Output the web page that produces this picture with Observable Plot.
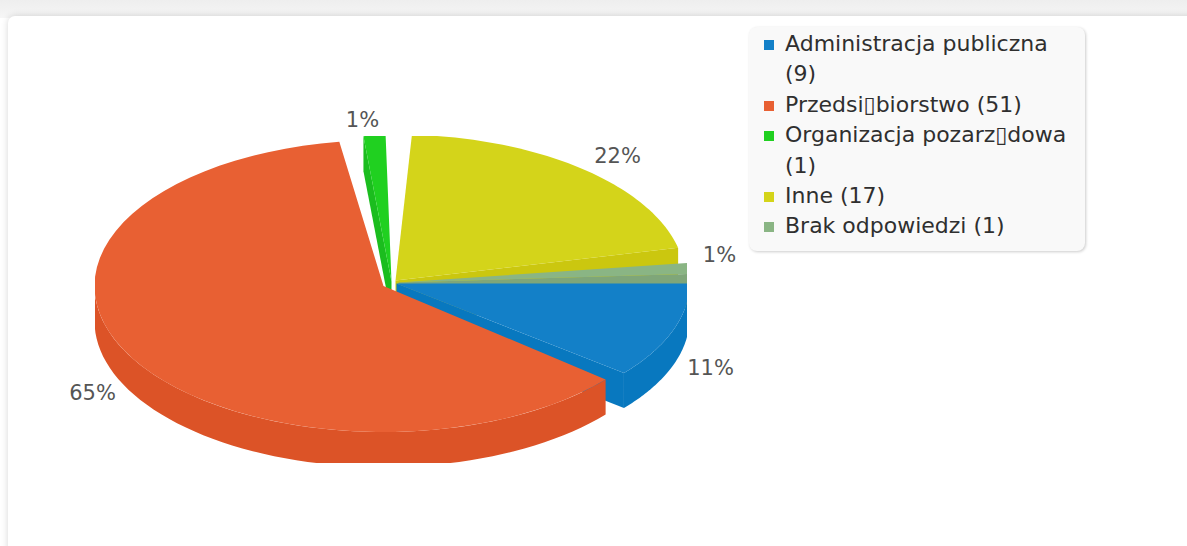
<!DOCTYPE html>
<html lang="pl">
<head>
<meta charset="utf-8">
<script src="https://cdn.jsdelivr.net/npm/d3@7"></script>
<script src="https://cdn.jsdelivr.net/npm/@observablehq/plot@0.6"></script>
<style>
html,body{margin:0;padding:0;background:#fff;overflow:hidden;width:1187px;height:546px;font-family:"DejaVu Sans",sans-serif}
#band{position:absolute;left:0;top:0;width:1187px;height:18px;background:linear-gradient(#eeeeee,#f6f6f6)}
#card{position:absolute;left:8px;top:16px;width:1400px;height:800px;background:#fff;border-radius:7px;box-shadow:0 0 7px rgba(0,0,0,.16)}
#chart{position:absolute;left:0;top:0}
#legend{position:absolute;left:749px;top:27px;width:336px;height:224px;box-sizing:border-box;background:#f9f9f9;border-radius:8px;box-shadow:1px 1px 3px rgba(0,0,0,.2);padding:2px 8px 0 36px;color:#2f2f2f;font-size:22px;line-height:30.4px}
#legend .item{position:relative}
#legend .key{position:absolute;left:-21px;top:11px;width:10px;height:10px}
</style>
</head>
<body>
<div id="band"></div>
<div id="card"></div>
<div id="chart"></div>
<div id="legend"></div>
<script>
// Data
const categories = ["Administracja publiczna", "Przedsi\u25AFbiorstwo", "Organizacja pozarz\u25AFdowa", "Inne", "Brak odpowiedzi"];
const counts = [9, 51, 1, 17, 1];
const percentLabels = ["11%", "65%", "1%", "22%", "1%"];

// Styling
const topColors = ["#1380c8", "#e86033", "#20d020", "#d4d41a", "#8ab584"];
const sideColors = ["#0878bf", "#dc5327", "#1bbd1e", "#cbc70f", "#7fa679"];

// 3D pie geometry (pixels on the frame)
const depth = 35, gapDeg = 3.4;
const radiusX = [293, 289, 293, 290, 293];
const radiusY = [142, 146, 146, 146, 146];
const centerX = [396, 383, 391, 395, 398];
const centerY = [283, 285.5, 281, 280, 282];
const turnDeg = [0, -2.7, -2.8, -1.8, 0];
const frame = {left: 95, right: 687, top: 136, bottom: 463};

const total = d3.sum(counts);
const sweepScale = (360 - gapDeg * counts.length) / 360;
let cursor = 0;
const slices = counts.map((c, i) => {
  const sweep = c / total * 360 * sweepScale;
  const a0 = cursor + turnDeg[i], a1 = a0 + sweep;
  cursor += sweep + gapDeg;
  return {i, a0, a1, cx: centerX[i], cy: centerY[i], rx: radiusX[i], ry: radiusY[i]};
});
const rad = d => d * Math.PI / 180;
const pt = (s, a, dz = 0) => ({x: s.cx + s.rx * Math.cos(rad(a)), y: s.cy + s.ry * Math.sin(rad(a)) + dz});
const arc = (s, a0, a1, dz = 0) => d3.range(0, 61).map(k => pt(s, a0 + (a1 - a0) * k / 60, dz));
const apex = (s, dz = 0) => ({x: s.cx, y: s.cy + dz});
const topFace = s => [apex(s), ...arc(s, s.a0, s.a1)];
const outerWall = (s, a0, a1) => [...arc(s, a0, a1), ...arc(s, a1, a0, depth)];
const cutFace = (s, a) => [apex(s), pt(s, a), pt(s, a, depth), apex(s, depth)];
const shape = (pts, fill) => Plot.line(pts, {x: "x", y: "y", fill, stroke: "none", curve: "linear", clip: true});

const [blue, red, green, yellow, gray] = slices;
const marks = [
  shape(cutFace(green, green.a0), sideColors[2]),
  shape(topFace(green), topColors[2]),
  shape(cutFace(yellow, yellow.a1), sideColors[3]),
  shape(topFace(yellow), topColors[3]),
  shape(cutFace(gray, gray.a1), sideColors[4]),
  shape(topFace(gray), topColors[4]),
  shape(cutFace(blue, blue.a1), sideColors[0]),
  shape(outerWall(blue, blue.a0, blue.a1), sideColors[0]),
  shape(topFace(blue), topColors[0]),
  shape(outerWall(red, red.a0, 180), sideColors[1]),
  shape(topFace(red), topColors[1])
];

const labelAnchors = [[710, 368], [92, 393], [362, 120], [617, 156], [719, 255]];
const labelRows = slices.map(s => ({text: percentLabels[s.i], x: labelAnchors[s.i][0], y: labelAnchors[s.i][1]}));
marks.push(Plot.text(labelRows, {
  x: "x", y: "y", text: "text", fill: "#555555", fontSize: 21, textAnchor: "middle", lineAnchor: "middle"
}));

const chart = Plot.plot({
  width: 1187, height: 546,
  marginLeft: frame.left, marginRight: 1187 - frame.right,
  marginTop: frame.top, marginBottom: 546 - frame.bottom,
  style: {background: "transparent", fontFamily: "DejaVu Sans"},
  x: {domain: [frame.left, frame.right], axis: null},
  y: {domain: [frame.bottom, frame.top], axis: null},
  marks
});
document.getElementById("chart").append(chart);

const legend = document.getElementById("legend");
categories.forEach((name, i) => {
  const row = document.createElement("div");
  row.className = "item";
  const key = document.createElement("span");
  key.className = "key";
  key.style.background = topColors[i];
  row.append(key, document.createTextNode(`${name} (${counts[i]})`));
  legend.append(row);
});
</script>
</body>
</html>
